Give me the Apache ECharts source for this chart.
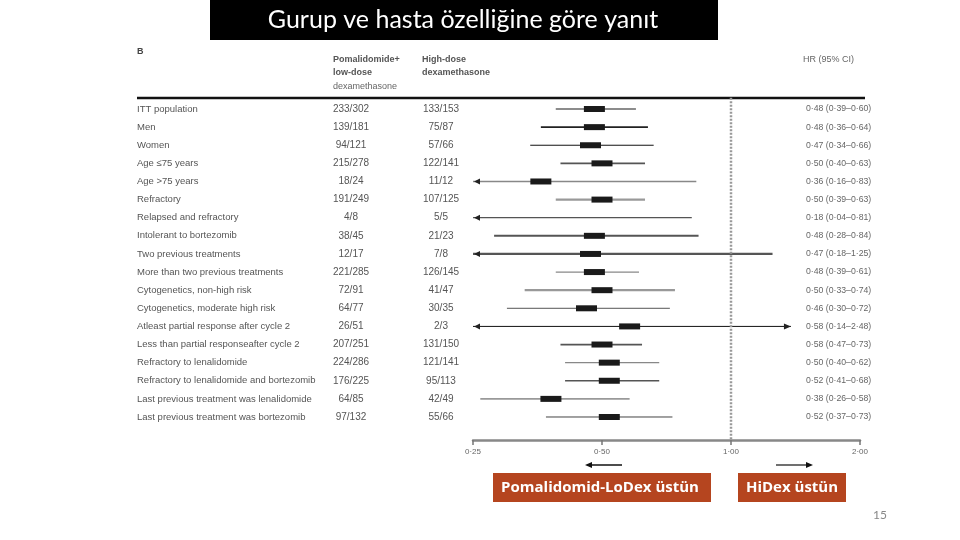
<!DOCTYPE html>
<html>
<head>
<meta charset="utf-8">
<script src="https://cdn.jsdelivr.net/npm/echarts@6/dist/echarts.min.js"></script>
<style>
html,body{margin:0;padding:0;background:#fff;}
#chart{width:960px;height:540px;}
</style>
</head>
<body>
<div id="chart"></div>
<script>
// ---------- data ----------
const labels = [
  'ITT population','Men','Women','Age \u226475 years','Age >75 years','Refractory',
  'Relapsed and refractory','Intolerant to bortezomib','Two previous treatments',
  'More than two previous treatments','Cytogenetics, non-high risk','Cytogenetics, moderate high risk',
  'Atleast partial response after cycle 2','Less than partial responseafter cycle 2',
  'Refractory to lenalidomide','Refractory to lenalidomide and bortezomib',
  'Last previous treatment was lenalidomide','Last previous treatment was bortezomib'
];
const pomEvents = [233,139,94,215,18,191,4,38,12,221,72,64,26,207,224,176,64,97];
const pomTotal  = [302,181,121,278,24,249,8,45,17,285,91,77,51,251,286,225,85,132];
const hdEvents  = [133,75,57,122,11,107,5,21,7,126,41,30,2,131,121,95,42,55];
const hdTotal   = [153,87,66,141,12,125,5,23,8,145,47,35,3,150,141,113,49,66];
// HR text as printed in the right column
const hrText = [
  '0\u00b748 (0\u00b739\u20130\u00b760)','0\u00b748 (0\u00b736\u20130\u00b764)','0\u00b747 (0\u00b734\u20130\u00b766)',
  '0\u00b750 (0\u00b740\u20130\u00b763)','0\u00b736 (0\u00b716\u20130\u00b783)','0\u00b750 (0\u00b739\u20130\u00b763)',
  '0\u00b718 (0\u00b704\u20130\u00b781)','0\u00b748 (0\u00b728\u20130\u00b784)','0\u00b747 (0\u00b718\u20131\u00b725)',
  '0\u00b748 (0\u00b739\u20130\u00b761)','0\u00b750 (0\u00b733\u20130\u00b774)','0\u00b746 (0\u00b730\u20130\u00b772)',
  '0\u00b758 (0\u00b714\u20132\u00b748)','0\u00b758 (0\u00b747\u20130\u00b773)','0\u00b750 (0\u00b740\u20130\u00b762)',
  '0\u00b752 (0\u00b741\u20130\u00b768)','0\u00b738 (0\u00b726\u20130\u00b758)','0\u00b752 (0\u00b737\u20130\u00b773)'
];
// plotted estimates (read from the marks)
const hr = [0.48,0.48,0.47,0.50,0.36,0.50,0.18,0.48,0.47,0.48,0.50,0.46,0.58,0.50,0.52,0.52,0.38,0.52];
const lo = [0.39,0.36,0.34,0.40,0.16,0.39,0.04,0.28,0.18,0.39,0.33,0.30,0.14,0.40,0.41,0.41,0.26,0.37];
const hi = [0.60,0.64,0.66,0.63,0.83,0.63,0.81,0.84,1.25,0.61,0.74,0.72,2.48,0.62,0.68,0.68,0.58,0.73];
const axisTicks = [0.25, 0.5, 1, 2];
const clipRange = [0.25, 1.38];
const refValue = 1;

// ---------- styles ----------
const lineStyles = [
  ['#666',1.3],['#222',1.7],['#111',1],['#555',1.7],['#888',1.7],['#999',2.3],
  ['#555',1.3],['#555',2],['#555',2.3],['#888',1.3],['#999',2.3],['#555',1],
  ['#111',1],['#555',1.7],['#888',1.3],['#555',1.3],['#999',1.7],['#444',1]
];
const F = '"Liberation Sans", Arial, sans-serif';

const chart = echarts.init(document.getElementById('chart'));

function ciItem(params, api) {
  const i = params.dataIndex;
  const l = Math.max(lo[i], clipRange[0]);
  const h = Math.min(hi[i], clipRange[1]);
  const p1 = api.coord([l, i]);
  const p2 = api.coord([h, i]);
  const [col, w] = lineStyles[i];
  const ch = [{
    type: 'line',
    shape: {x1: p1[0], y1: p1[1], x2: p2[0], y2: p2[1]},
    style: {stroke: col, lineWidth: w}
  }];
  if (lo[i] < clipRange[0]) {
    ch.push({type:'polygon', shape:{points:[[p1[0]+1,p1[1]],[p1[0]+7,p1[1]-3],[p1[0]+7,p1[1]+3]]}, style:{fill:'#222'}});
  }
  if (hi[i] > clipRange[1]) {
    ch.push({type:'polygon', shape:{points:[[p2[0],p2[1]],[p2[0]-7,p2[1]-3],[p2[0]-7,p2[1]+3]]}, style:{fill:'#222'}});
  }
  if (hr[i] >= axisTicks[0]) {
    const c = api.coord([hr[i], i]);
    ch.push({type:'rect', shape:{x:c[0]-10.5, y:c[1]-3, width:21, height:6}, style:{fill:'#1a1a1a'}});
  }
  return {type:'group', children: ch};
}

function textItem(params, api) {
  const i = params.dataIndex;
  const y = api.coord([refValue, i])[1];
  return {type:'group', children:[
    {type:'text', style:{x:137, y:y, text:labels[i], fill:'#555', font:'9.5px ' + F, verticalAlign:'middle', align:'left'}},
    {type:'text', style:{x:351, y:y, text:pomEvents[i] + '/' + pomTotal[i], fill:'#555', font:'10px ' + F, verticalAlign:'middle', align:'center'}},
    {type:'text', style:{x:441, y:y, text:hdEvents[i] + '/' + hdTotal[i], fill:'#555', font:'10px ' + F, verticalAlign:'middle', align:'center'}},
    {type:'text', style:{x:806, y:y, text:hrText[i], fill:'#666', font:'8.7px ' + F, verticalAlign:'middle', align:'left'}}
  ]};
}

const option = {
  animation: false,
  backgroundColor: '#fff',
  grid: {left: 473, right: 100, top: 90.9, bottom: 100},
  xAxis: {
    type: 'log', logBase: 2, min: axisTicks[0], max: axisTicks[axisTicks.length-1],
    position: 'bottom',
    axisLine: {show: true, onZero: false, lineStyle: {color: '#888', width: 2.5}},
    axisTick: {show: true, length: 5, lineStyle: {color: '#777', width: 1.5}},
    minorTick: {show: false},
    splitLine: {show: false},
    axisLabel: {fontSize: 8, color: '#666', fontFamily: F, margin: 8,
      formatter: v => Number(v).toFixed(2).replace('.', '\u00b7')}
  },
  yAxis: {type: 'value', inverse: true, min: -1, max: 18.27, show: false},
  series: [
    {
      type: 'line', silent: true, symbol: 'none',
      data: [[refValue, -0.62], [refValue, 18.27]],
      lineStyle: {color: '#999', width: 2.5, type: [2, 1.5]}
    },
    {
      type: 'custom', clip: false, silent: true,
      data: hr.map((v, i) => [Math.max(v, axisTicks[0]), i]),
      renderItem: ciItem
    },
    {
      type: 'custom', clip: false, silent: true,
      data: labels.map((l, i) => [refValue, i]),
      renderItem: textItem
    }
  ],
  graphic: [
    {type:'rect', shape:{x:210, y:0, width:508, height:40}, style:{fill:'#000'}},
    {type:'text', style:{x:463, y:20, text:'Gurup ve hasta özelliğine göre yanıt', fill:'#fff', font:'25px Lato, "Open Sans", sans-serif', align:'center', verticalAlign:'middle'}},
    {type:'text', style:{x:137, y:52, text:'B', fill:'#444', font:'bold 9px ' + F, verticalAlign:'middle'}},
    {type:'text', style:{x:333, y:60, text:'Pomalidomide+', fill:'#555', font:'bold 9px ' + F, verticalAlign:'middle'}},
    {type:'text', style:{x:333, y:73, text:'low-dose', fill:'#555', font:'bold 9px ' + F, verticalAlign:'middle'}},
    {type:'text', style:{x:333, y:87, text:'dexamethasone', fill:'#666', font:'9px ' + F, verticalAlign:'middle'}},
    {type:'text', style:{x:422, y:60, text:'High-dose', fill:'#555', font:'bold 9px ' + F, verticalAlign:'middle'}},
    {type:'text', style:{x:422, y:73, text:'dexamethasone', fill:'#555', font:'bold 9px ' + F, verticalAlign:'middle'}},
    {type:'text', style:{x:803, y:60, text:'HR (95% CI)', fill:'#666', font:'9px ' + F, verticalAlign:'middle'}},
    {type:'line', shape:{x1:137, y1:98, x2:865, y2:98}, style:{stroke:'#111', lineWidth:2.5}},
    // direction arrows
    {type:'line', shape:{x1:622, y1:465, x2:590, y2:465}, style:{stroke:'#111', lineWidth:1.5}},
    {type:'polygon', shape:{points:[[585,465],[592,462],[592,468]]}, style:{fill:'#111'}},
    {type:'line', shape:{x1:776, y1:465, x2:808, y2:465}, style:{stroke:'#111', lineWidth:1.2}},
    {type:'polygon', shape:{points:[[813,465],[806,462],[806,468]]}, style:{fill:'#111'}},
    // labels
    {type:'rect', shape:{x:493, y:473, width:218, height:29}, style:{fill:'#b5451f'}},
    {type:'text', style:{x:600, y:488, text:'Pomalidomid-LoDex üstün', fill:'#fff', font:'bold 15px "Open Sans", sans-serif', align:'center', verticalAlign:'middle'}},
    {type:'rect', shape:{x:738, y:473, width:108, height:29}, style:{fill:'#b5451f'}},
    {type:'text', style:{x:792, y:488, text:'HiDex üstün', fill:'#fff', font:'bold 15px "Open Sans", sans-serif', align:'center', verticalAlign:'middle'}},
    {type:'text', style:{x:887, y:515, text:'15', fill:'#888', font:'12px Lato, sans-serif', align:'right', verticalAlign:'middle'}}
  ]
};
chart.setOption(option);
</script>
</body>
</html>
